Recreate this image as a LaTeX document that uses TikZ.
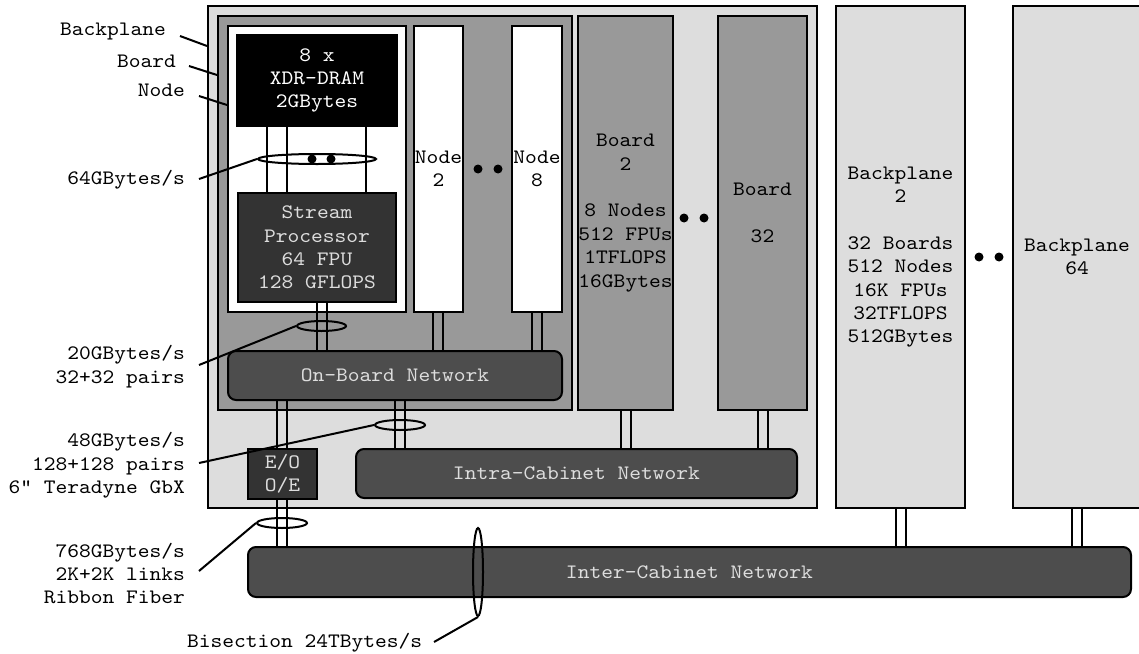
\documentclass[tikz,border=0pt]{standalone}
\usepackage{fontspec}
\setmonofont{lmmono10-regular}[Extension=.otf, FakeStretch=1.093]
\usetikzlibrary{shapes.geometric}
\definecolor{bpgray}{HTML}{DDDDDD}
\definecolor{bdgray}{HTML}{999999}
\definecolor{spgray}{HTML}{333333}
\definecolor{netgray}{HTML}{4D4D4D}
\definecolor{txtlight}{HTML}{DDDDDD}
\tikzset{
  box/.style={draw, rectangle, inner sep=0pt, align=center},
  net/.style={draw, rectangle, rounded corners=8pt, inner sep=0pt, align=center, fill=netgray, text=txtlight},
  ring/.style={draw, ellipse, inner sep=0pt},
  lbl/.style={inner sep=0pt, align=right, anchor=east},
}
\newcommand\pairlink[3]{%
  \draw (#1,0 |- #2.south) -- (#1,0 |- #3.north);
  \draw (#1+10,0 |- #2.south) -- (#1+10,0 |- #3.north);}
\begin{document}
\begin{tikzpicture}[x=1pt,y=-1pt,line width=2pt,font=\ttfamily\fontsize{20.5}{23.4}\selectfont]
\useasboundingbox (0,0) rectangle (1139,653);
% backplane 1 and contents
\node[box, fill=bpgray, minimum width=609pt, minimum height=502pt] (bp1) at (512.5,257) {};
\node[box, fill=bdgray, minimum width=354pt, minimum height=394pt] (bd1) at (395,213) {};
\node[box, fill=white, minimum width=178pt, minimum height=286pt] (nd1) at (317,169) {};
\node[box, fill=black, text=white, minimum width=160pt, minimum height=91pt] (dram) at (317,80.5) {8 x\\XDR-DRAM\\2GBytes};
\node[box, fill=spgray, text=txtlight, minimum width=158pt, minimum height=109pt] (sp) at (317,247.5) {Stream\\Processor\\64 FPU\\128 GFLOPS};
\node[box, fill=white, minimum width=49pt, minimum height=286pt] (nd2) at (438.5,169) {Node\\2};
\node[box, fill=white, minimum width=50pt, minimum height=286pt] (nd8) at (537,169) {Node\\8};
\node[box, fill=bdgray, minimum width=89pt, minimum height=394pt] (bd2) at (625.5,213) {Board\\2\\\mbox{}\\8 Nodes\\512 FPUs\\1TFLOPS\\16GBytes};
\node[box, fill=bdgray, minimum width=89pt, minimum height=394pt] (bd32) at (762.5,213) {Board\\\mbox{}\\32};
\node[net, minimum width=334pt, minimum height=49pt] (obn) at (395,375.5) {On-Board Network};
\node[box, fill=spgray, text=txtlight, minimum width=69pt, minimum height=50pt] (eo) at (282.5,474) {E/O\\O/E};
\node[net, minimum width=441pt, minimum height=49pt] (icn) at (576.5,473.5) {Intra-Cabinet Network};
% other backplanes
\node[box, fill=bpgray, minimum width=129pt, minimum height=502pt] (bp2) at (900.5,257) {Backplane\\2\\\mbox{}\\32 Boards\\512 Nodes\\16K FPUs\\32TFLOPS\\512GBytes};
\node[box, fill=bpgray, minimum width=128pt, minimum height=502pt] (bp64) at (1077,257) {Backplane\\64};
\node[net, minimum width=883pt, minimum height=50pt] (inter) at (689.5,572) {Inter-Cabinet Network};
% connectors
\draw (267,0 |- dram.south) -- (267,0 |- sp.north);
\draw (287,0 |- dram.south) -- (287,0 |- sp.north);
\draw (366,0 |- dram.south) -- (366,0 |- sp.north);
\pairlink{317}{sp}{obn}
\pairlink{433}{nd2}{obn}
\pairlink{532}{nd8}{obn}
\pairlink{277}{obn}{eo}
\pairlink{277}{eo}{inter}
\pairlink{395}{obn}{icn}
\pairlink{621}{bd2}{icn}
\pairlink{758}{bd32}{icn}
\pairlink{896}{bp2}{inter}
\pairlink{1072}{bp64}{inter}
% rings
\node[ring, minimum width=118pt, minimum height=10pt] (e64) at (317,159) {};
\node[ring, minimum width=49pt, minimum height=10pt] (e20) at (321.5,326) {};
\node[ring, minimum width=50pt, minimum height=10pt] (e48) at (400,425) {};
\node[ring, minimum width=50pt, minimum height=10pt] (e768) at (282,523) {};
\node[ring, minimum width=10pt, minimum height=88pt] (eb) at (478,572) {};
% ellipsis dots
\fill (312,159) circle (4.5);
\fill (331,159) circle (4.5);
\fill (478,169) circle (4.5);
\fill (498,169) circle (4.5);
\fill (684,218) circle (4.5);
\fill (704,218) circle (4.5);
\fill (979,257) circle (4.5);
\fill (999,257) circle (4.5);
% labels
\node[lbl] (lbp) at (167,32) {Backplane};
\node[lbl] (lbd) at (177,61) {Board};
\node[lbl] (lnd) at (186,90) {Node};
\node[lbl] (l64) at (186,180) {64GBytes/s};
\node[lbl] (l20) at (186,366.5) {20GBytes/s\\32+32 pairs};
\node[lbl] (l48) at (186,465.5) {48GBytes/s\\128+128 pairs\\6” Teradyne GbX};
\node[lbl] (l768) at (186,573.5) {768GBytes/s\\2K+2K links\\Ribbon Fiber};
\node[inner sep=0pt, anchor=west] (lbis) at (186,643) {Bisection 24TBytes/s};
% leaders
\coordinate (cbp) at (180,36);
\coordinate (cbd) at (189,66);
\coordinate (cnd) at (199,96);
\coordinate (c64) at (199,179);
\coordinate (c20) at (199,365);
\coordinate (c48) at (199,463);
\coordinate (c768) at (199,571);
\coordinate (cbis) at (434,642);
\draw (cbp) -- (bp1.west |- 0,46);
\draw (cbd) -- (bd1.west |- 0,75);
\draw (cnd) -- (nd1.west |- 0,105);
\draw (c64) -- (e64.west);
\draw (c20) -- (e20.west);
\draw (c48) -- (e48.west);
\draw (c768) -- (e768.west);
\draw (cbis) -- (eb.south);
\end{tikzpicture}
\end{document}
